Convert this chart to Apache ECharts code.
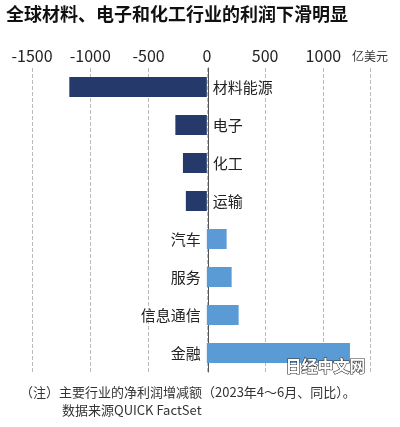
<!DOCTYPE html>
<html><head><meta charset="utf-8">
<script src="https://cdn.jsdelivr.net/npm/echarts@6/dist/echarts.min.js"></script>
<style>html,body{margin:0;padding:0;background:#fff}#c{width:400px;height:427px}</style>
</head><body><div id="c"></div>
<script>
var categories=['材料能源','电子','化工','运输','汽车','服务','信息通信','金融'];
var values=[-1180,-270,-205,-180,170,213,273,1228];
var chart=echarts.init(document.getElementById('c'));
var F='"Noto Sans CJK SC",sans-serif';
chart.setOption({
 animation:false,
 grid:{left:32,right:30,top:68,bottom:55},
 xAxis:{type:'value',position:'top',min:-1500,max:1400,interval:500,
  axisLine:{show:false},axisTick:{show:false},
  axisLabel:{showMaxLabel:false,fontSize:16,color:'#222',fontFamily:F,margin:4,formatter:function(v){return String(v);}},
  splitLine:{lineStyle:{type:'dashed',color:'#bbb'}}},
 yAxis:{type:'category',data:categories,inverse:true,axisLine:{show:true,onZero:false,lineStyle:{color:'#555'}},
  position:'left',offset:-176,axisTick:{show:false},axisLabel:{show:false}},
 series:[{type:'bar',barWidth:20,
  data:values.map(function(v,i){return {value:v,itemStyle:{color:v<0?'#253a6a':'#5b9bd5'},
   label:{show:true,position:v<0?'right':'left',formatter:categories[i],fontSize:15,color:'#222',fontFamily:F,distance:6}};})
 }],
 graphic:[
  {type:'text',left:6,top:5,style:{text:'全球材料、电子和化工行业的利润下滑明显',font:'bold 18px '+F,fill:'#111'}},
  {type:'text',left:352,top:50,style:{text:'亿美元',font:'12px '+F,fill:'#333'}},
  {type:'text',left:285,top:357,z:100,style:{text:'日经中文网',font:'bold 16px '+F,fill:'#fff',stroke:'#333',lineWidth:1.2}},
  {type:'text',left:20,top:386,style:{text:'（注）主要行业的净利润增减额（2023年4～6月、同比）。',font:'13px '+F,fill:'#333'}},
  {type:'text',left:62,top:404,style:{text:'数据来源QUICK FactSet',font:'13px '+F,fill:'#333'}}
 ]
});
</script></body></html>
